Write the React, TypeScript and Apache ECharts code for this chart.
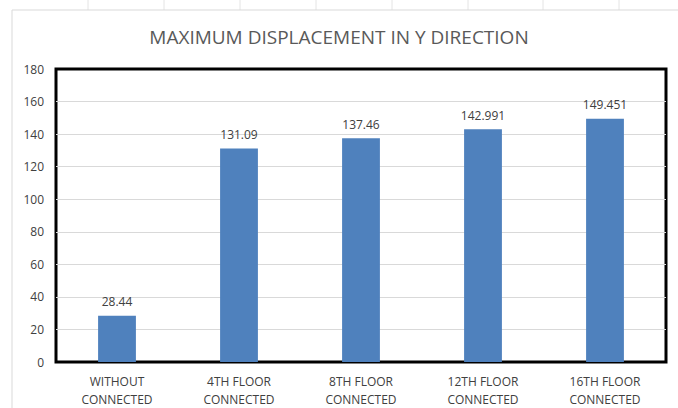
import React, { useEffect, useRef } from "react";
import * as echarts from "echarts";

const categories = [
  "WITHOUT\nCONNECTED",
  "4TH FLOOR\nCONNECTED",
  "8TH FLOOR\nCONNECTED",
  "12TH FLOOR\nCONNECTED",
  "16TH FLOOR\nCONNECTED",
];
const displacement = [28.44, 131.09, 137.46, 142.991, 149.451];
const sheetColumnX = [88, 164, 240, 316, 392, 468, 543, 619];

const FONT = "'Open Sans', sans-serif";

export default function App() {
  const ref = useRef<HTMLDivElement>(null);

  useEffect(() => {
    if (!ref.current) return;
    const chart = echarts.init(ref.current, undefined, { renderer: "svg" });

    const sheetLines = sheetColumnX.map((x) => ({
      type: "line",
      shape: { x1: x, y1: 0, x2: x, y2: 10 },
      style: { stroke: "#e4e4e4", lineWidth: 1 },
      silent: true,
    }));

    chart.setOption({
      animation: false,
      backgroundColor: "#ffffff",
      title: {
        text: "MAXIMUM DISPLACEMENT IN Y DIRECTION",
        left: "center",
        top: 22,
        textStyle: {
          fontFamily: FONT,
          fontWeight: "normal",
          fontSize: 19,
          color: "#595959",
        },
      },
      graphic: [
        ...sheetLines,
        {
          type: "line",
          shape: { x1: 12, y1: 10, x2: 678, y2: 10 },
          style: { stroke: "#d9d9d9", lineWidth: 1 },
          silent: true,
        },
        {
          type: "line",
          shape: { x1: 12, y1: 10, x2: 12, y2: 408 },
          style: { stroke: "#d9d9d9", lineWidth: 1 },
          silent: true,
        },
      ],
      grid: {
        left: 56,
        top: 69,
        right: 12,
        bottom: 42,
        show: true,
        borderColor: "#000000",
        borderWidth: 3,
      },
      xAxis: {
        type: "category",
        data: categories,
        axisTick: { show: false },
        axisLine: { show: false },
        axisLabel: {
          margin: 10,
          fontFamily: FONT,
          fontSize: 12,
          lineHeight: 18,
          color: "#404040",
          interval: 0,
        },
      },
      yAxis: {
        type: "value",
        min: 0,
        max: 180,
        interval: 20,
        axisLine: { show: false },
        axisTick: { show: false },
        splitLine: {
          showMinLine: false,
          showMaxLine: false,
          lineStyle: { color: "#d9d9d9", width: 1 },
        },
        axisLabel: {
          margin: 12,
          fontFamily: FONT,
          fontSize: 12,
          color: "#404040",
        },
      },
      series: [
        {
          type: "bar",
          data: displacement,
          barWidth: "31%",
          itemStyle: { color: "#4f81bd" },
          label: {
            show: true,
            position: "top",
            distance: 8,
            fontFamily: FONT,
            fontSize: 12,
            color: "#404040",
          },
        },
      ],
    });

    return () => chart.dispose();
  }, []);

  return (
    <div
      ref={ref}
      style={{ position: "fixed", left: 0, top: 0, width: 678, height: 408 }}
    />
  );
}
